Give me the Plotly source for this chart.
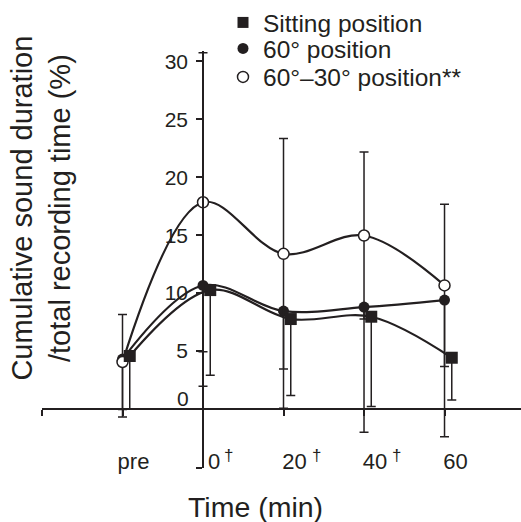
import plotly.graph_objects as go

# Time points (min); "pre" is placed one step before 0
time_pos = [-20, 0, 20, 40, 60]
time_labels = ["pre", "0", "20", "40", "60"]
# † : significant change from pre
dagger = [False, True, True, True, False]

# Cumulative sound duration / total recording time (%), mean and SD
sitting = [4.57, 10.26, 7.76, 7.96, 4.42]
sitting_sd = [4.6, 7.35, 6.6, 7.75, 3.65]

deg60 = [4.3, 10.66, 8.45, 8.79, 9.40]
deg60_sd = [5.0, 8.7, 8.4, 10.8, 11.8]

deg6030 = [4.05, 17.84, 13.39, 14.97, 10.66]
deg6030_sd = [4.1, 12.9, 9.95, 7.2, 7.0]

y_ticks = [5, 10, 15, 20, 25, 30]

INK = "#231f20"
FONT = "Liberation Sans, Arial, Helvetica, sans-serif"
TICK_SIZE_X = 22
TICK_SIZE_Y = 21

x_min, x_max = -40, 79
y_min, y_max = -5.1, 30.9
square_dodge = 1.8  # sitting markers are nudged right so they do not hide the circles
label_shift = 11    # tick labels sit a little right of their tick

W, H = 521, 522
M_L, M_R, M_T, M_B = 42, 0, 50, 54
plot_h = H - M_T - M_B


def paper_y(py):
    """Pixel row (from top) -> paper y fraction."""
    return (H - M_B - py) / plot_h


def paper_x(px):
    return (px - M_L) / (W - M_L - M_R)


fig = go.Figure()

# 60° position: filled circles, SD drawn downward
fig.add_trace(go.Scatter(
    x=time_pos, y=deg60, mode="lines+markers",
    line=dict(color=INK, width=2.2, shape="spline", smoothing=1),
    marker=dict(symbol="circle", size=11, color=INK),
    error_y=dict(type="data", symmetric=False, array=[0] * len(deg60),
                 arrayminus=deg60_sd, color=INK, thickness=1.5, width=4.5),
    showlegend=False,
))

# 60°-30° position: open circles, symmetric SD
fig.add_trace(go.Scatter(
    x=time_pos, y=deg6030, mode="lines+markers",
    line=dict(color=INK, width=2.2, shape="spline", smoothing=1),
    marker=dict(symbol="circle", size=11, color="white", line=dict(color=INK, width=1.5)),
    error_y=dict(type="data", array=deg6030_sd, color=INK, thickness=1.5, width=4.5),
    showlegend=False,
))

# Sitting position: filled squares, SD drawn downward
fig.add_trace(go.Scatter(
    x=[t + square_dodge for t in time_pos], y=sitting, mode="lines+markers",
    line=dict(color=INK, width=2.2, shape="spline", smoothing=1),
    marker=dict(symbol="square", size=12, color=INK),
    error_y=dict(type="data", symmetric=False, array=[0] * len(sitting),
                 arrayminus=sitting_sd, color=INK, thickness=1.5, width=4.5),
    showlegend=False,
))

# Legend entries (markers only), one small legend per row
legend_items = [
    ("Sitting position", dict(symbol="square", size=11, color=INK), "legend", 21),
    ("60° position", dict(symbol="circle", size=11, color=INK), "legend2", 48.5),
    ("60°–30° position**", dict(symbol="circle", size=11, color="white",
                                 line=dict(color=INK, width=1.5)), "legend3", 77),
]
legend_layout = {}
for name, mk, lg, py in legend_items:
    fig.add_trace(go.Scatter(x=[None], y=[None], mode="markers", marker=mk,
                             name=name, legend=lg))
    legend_layout[lg] = dict(
        x=paper_x(223), y=paper_y(py), xanchor="left", yanchor="middle",
        font=dict(size=24.5, family=FONT, color=INK),
        bgcolor="rgba(0,0,0,0)", borderwidth=0,
        itemclick=False, itemdoubleclick=False,
    )

annotations = [
    # "0" of the y axis sits just above the horizontal axis
    dict(text="0", x=0, y=0, xref="x", yref="y", xanchor="right", yanchor="middle",
         xshift=-12, yshift=10, showarrow=False,
         font=dict(size=TICK_SIZE_Y, family=FONT, color=INK)),
    dict(text="Time (min)", x=paper_x(255), y=0, xref="paper", yref="paper",
         xanchor="center", yanchor="middle", yshift=-39, showarrow=False,
         font=dict(size=28.5, family=FONT, color=INK)),
    dict(text="Cumulative sound duration<br>/total recording time (%)",
         x=paper_x(41), y=paper_y(208), xref="paper", yref="paper",
         xanchor="center", yanchor="middle", textangle=-90, showarrow=False,
         font=dict(size=29, family=FONT, color=INK)),
]

# daggers beside the time labels
for t, lab, flag in zip(time_pos, time_labels, dagger):
    if flag:
        half_w = 0.556 * TICK_SIZE_X * len(lab) / 2
        annotations.append(dict(
            text="†", x=t, y=0, xref="x", yref="y", xanchor="left", yanchor="middle",
            xshift=label_shift + half_w + 1.5 * len(lab), yshift=-47, showarrow=False,
            font=dict(size=17, family=FONT, color=INK)))

x_axis_pos = (0 - y_min) / (y_max - y_min)
y_axis_pos = (0 - x_min) / (x_max - x_min)

fig.update_layout(
    width=W, height=H,
    margin=dict(l=M_L, r=M_R, t=M_T, b=M_B),
    paper_bgcolor="white", plot_bgcolor="white",
    font=dict(family=FONT, color=INK),
    xaxis=dict(
        range=[x_min, x_max], anchor="free", position=x_axis_pos,
        showline=True, linecolor=INK, linewidth=1.6,
        showgrid=False, zeroline=False,
        ticks="outside", ticklen=6, tickwidth=1.5, tickcolor=INK,
        tickvals=[x_min] + time_pos, ticktext=[""] + time_labels,
        tickfont=dict(size=TICK_SIZE_X, family=FONT, color=INK),
        ticklabelstandoff=27, ticklabelshift=label_shift,
    ),
    yaxis=dict(
        range=[y_min, y_max], anchor="free", position=y_axis_pos,
        showline=True, linecolor=INK, linewidth=1.6,
        showgrid=False, zeroline=False,
        ticks="outside", ticklen=6, tickwidth=1.5, tickcolor=INK,
        tickvals=[y_min] + y_ticks, ticktext=[""] + [str(v) for v in y_ticks],
        tickfont=dict(size=TICK_SIZE_Y, family=FONT, color=INK),
        ticklabelstandoff=4,
    ),
    annotations=annotations,
    **legend_layout,
)

fig.write_html("out.html")
